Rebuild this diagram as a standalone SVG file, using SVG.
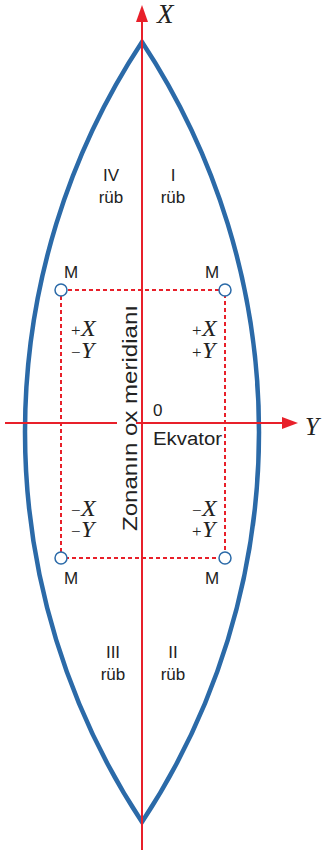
<svg xmlns="http://www.w3.org/2000/svg" width="322" height="852" viewBox="0 0 322 852">
<style>
.ax{stroke:#e8202a;stroke-width:2;fill:none}
.dash{stroke:#e8202a;stroke-width:2;fill:none;stroke-dasharray:4,3}
.lens{stroke:#2b6aa8;stroke-width:4.5;fill:none;stroke-linejoin:miter}
.pt{stroke:#2b6aa8;stroke-width:1.5;fill:#fff}
.t{font-family:"Liberation Sans",Arial,sans-serif;font-size:17px;fill:#222}
.v{font-family:"Liberation Serif","Times New Roman",serif;font-style:italic;font-size:24px;fill:#222}
.s{font-family:"Liberation Serif","Times New Roman",serif;font-size:17px;fill:#222}
</style>
<g id="lens"><path class="lens" d="M142,42 A708.5,708.5 0 0 1 142,822 A708.5,708.5 0 0 1 142,42 Z"/></g>
<g id="connectors">
<line class="ax" x1="142" y1="20" x2="142" y2="850"/>
<polygon points="142,5 136,22 148,22" fill="#e8202a"/>
<line class="ax" x1="5" y1="423" x2="117" y2="423"/>
<line class="ax" x1="136" y1="423" x2="284" y2="423"/>
<polygon points="298,423 282,417 282,429" fill="#e8202a"/>
<path class="dash" d="M61,290 H225 V558 H61 Z"/>
</g>
<g id="points">
<circle class="pt" cx="61" cy="290" r="6"/>
<circle class="pt" cx="225" cy="290" r="6"/>
<circle class="pt" cx="61" cy="558" r="6"/>
<circle class="pt" cx="225" cy="558" r="6"/>
</g>
<g id="labels">
<text class="v" x="157" y="23" style="font-size:27px">X</text>
<text class="v" x="305" y="435" style="font-size:25px">Y</text>
<text class="t" x="64" y="278">M</text>
<text class="t" x="205" y="278">M</text>
<text class="t" x="64" y="584">M</text>
<text class="t" x="205" y="584">M</text>
<text class="t" x="111" y="181" text-anchor="middle">IV</text>
<text class="t" x="111" y="203" text-anchor="middle">rüb</text>
<text class="t" x="173" y="181" text-anchor="middle">I</text>
<text class="t" x="173" y="203" text-anchor="middle">rüb</text>
<text class="t" x="113" y="658" text-anchor="middle">III</text>
<text class="t" x="113" y="680" text-anchor="middle">rüb</text>
<text class="t" x="173" y="658" text-anchor="middle">II</text>
<text class="t" x="173" y="680" text-anchor="middle">rüb</text>
<text class="t" x="153" y="416">0</text>
<text class="t" x="153" y="445" style="font-size:18px" textLength="69" lengthAdjust="spacingAndGlyphs">Ekvator</text>
<text class="s" x="71" y="336">+</text><text class="v" x="81" y="336">X</text>
<text class="s" x="71" y="358">−</text><text class="v" x="81" y="358">Y</text>
<text class="s" x="192" y="336">+</text><text class="v" x="202" y="336">X</text>
<text class="s" x="192" y="358">+</text><text class="v" x="202" y="358">Y</text>
<text class="s" x="71" y="516">−</text><text class="v" x="81" y="516">X</text>
<text class="s" x="71" y="537">−</text><text class="v" x="81" y="537">Y</text>
<text class="s" x="192" y="516">−</text><text class="v" x="202" y="516">X</text>
<text class="s" x="192" y="537">+</text><text class="v" x="202" y="537">Y</text>
<text class="t" transform="translate(137,418) rotate(-90)" text-anchor="middle" style="font-size:20px" textLength="226" lengthAdjust="spacingAndGlyphs">Zonanın ox meridianı</text>
</g>
</svg>
